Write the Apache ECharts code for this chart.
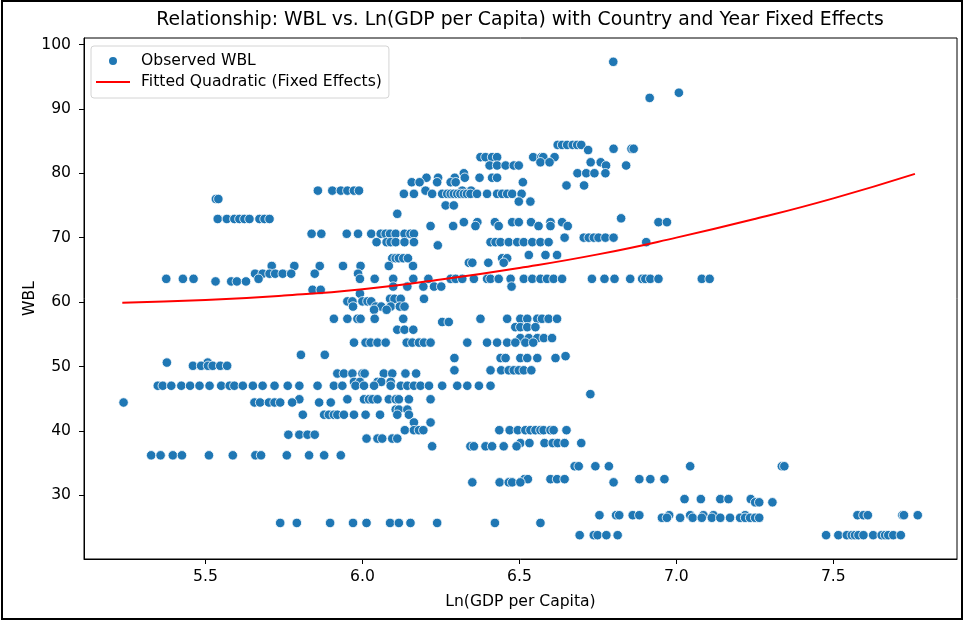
<!DOCTYPE html>
<html>
<head>
<meta charset="utf-8">
<script src="https://cdn.jsdelivr.net/npm/echarts@6/dist/echarts.min.js"></script>
<style>
  html, body { margin: 0; padding: 0; background: #fff; }
  #chart { width: 964px; height: 621px; }
</style>
</head>
<body>
<div id="chart"></div>
<script>
// WBL score levels and the Ln(GDP per capita) of each observation at that level
const wblLevels = [
  97.3, 92.5, 91.7, 84.4, 83.8, 83.6, 82.5, 81.7, 81.2, 80.0,
  79.3, 78.6, 78.1, 77.3, 76.8, 76.0, 75.6, 75.0, 73.7, 73.0,
  72.9, 72.4, 71.8, 70.6, 70.0, 69.3, 68.8, 67.3, 66.8, 66.1,
  65.6, 64.4, 63.6, 63.2, 62.4, 61.9, 61.3, 60.5, 60.1, 59.3,
  58.8, 57.4, 56.9, 56.1, 55.7, 54.4, 53.7, 51.8, 51.6, 51.3,
  50.6, 50.1, 49.4, 48.9, 47.6, 47.0, 45.7, 44.9, 44.4, 43.3,
  42.5, 41.3, 40.1, 39.4, 38.8, 38.1, 37.6, 36.2, 34.5, 32.5,
  32.0, 29.4, 28.9, 26.9, 26.5, 25.7, 23.8
];
const lnGdpByLevel = [
  [6.799],
  [7.008],
  [6.915],
  [6.622, 6.636, 6.652, 6.670, 6.684, 6.697],
  [6.800, 6.857, 6.864],
  [6.719],
  [6.376, 6.392, 6.413, 6.429, 6.544, 6.570, 6.576, 6.612],
  [6.567, 6.596, 6.727, 6.759],
  [6.405, 6.429, 6.456, 6.482, 6.498, 6.776, 6.840],
  [6.323, 6.685, 6.713, 6.739, 6.774],
  [6.204, 6.241, 6.294, 6.326, 6.373, 6.413, 6.429],
  [6.157, 6.182, 6.238, 6.281, 6.297, 6.511],
  [6.650, 6.706],
  [5.858, 5.904, 5.931, 5.952, 5.973, 5.989, 6.201, 6.318, 6.346],
  [6.132, 6.164, 6.222, 6.254, 6.270, 6.281, 6.291, 6.302, 6.312, 6.323, 6.333, 6.344, 6.365, 6.397, 6.429, 6.445, 6.461, 6.477, 6.507],
  [5.533, 5.541],
  [6.498, 6.535],
  [6.265, 6.291],
  [6.111],
  [6.824],
  [5.539, 5.568, 5.592, 5.608, 5.624, 5.640, 5.672, 5.688, 5.704],
  [6.323, 6.366, 6.422, 6.477, 6.498, 6.537, 6.599, 6.636, 6.943, 6.970],
  [6.217, 6.289, 6.360, 6.434, 6.561, 6.599, 6.654],
  [5.838, 5.869, 5.950, 5.986, 6.028, 6.058, 6.074, 6.088, 6.106, 6.134, 6.153, 6.164],
  [6.644, 6.705, 6.721, 6.737, 6.752, 6.774, 6.800],
  [6.045, 6.077, 6.090, 6.106, 6.134, 6.164, 6.408, 6.424, 6.440, 6.466, 6.493, 6.514, 6.541, 6.567, 6.593, 6.904],
  [6.240],
  [6.530, 6.583, 6.620],
  [6.095, 6.106, 6.116, 6.130, 6.145, 6.445, 6.461],
  [6.339, 6.350, 6.401, 6.450],
  [5.711, 5.783, 5.864, 5.938, 5.994, 6.084, 6.161],
  [5.658, 5.682, 5.704, 5.722, 5.746, 5.773, 5.848, 5.986],
  [5.375, 5.428, 5.462, 5.669, 5.992, 6.039, 6.098, 6.162, 6.210, 6.281, 6.297, 6.318, 6.355, 6.397, 6.408, 6.434, 6.472, 6.514, 6.541, 6.567, 6.588, 6.609, 6.636, 6.731, 6.771, 6.803, 6.853, 6.891, 6.901, 6.917, 6.943, 7.081, 7.106],
  [5.532, 5.582, 5.600, 5.629],
  [6.098, 6.143, 6.194, 6.228, 6.251, 6.475],
  [5.841, 5.867],
  [5.992],
  [6.088, 6.102, 6.122, 6.196],
  [5.952, 5.968, 6.000, 6.016, 6.028],
  [5.970, 6.042, 6.060, 6.090, 6.119, 6.134],
  [6.037, 6.077],
  [5.909, 5.952, 5.984, 5.994, 6.039, 6.130, 6.376, 6.461, 6.503, 6.525, 6.557, 6.572, 6.593, 6.620],
  [6.254, 6.275],
  [6.487, 6.503, 6.525, 6.551],
  [6.111, 6.134, 6.162],
  [6.503, 6.530, 6.557, 6.578, 6.604],
  [5.973, 6.010, 6.026, 6.048, 6.074, 6.141, 6.159, 6.180, 6.196, 6.217, 6.334, 6.397, 6.429, 6.461, 6.487, 6.519, 6.544],
  [5.804, 5.880],
  [6.647],
  [6.293, 6.440, 6.456, 6.503, 6.525, 6.557, 6.615],
  [5.377, 5.507],
  [5.460, 5.486, 5.508, 5.523, 5.547, 5.569],
  [6.293, 6.408, 6.442, 6.466, 6.482, 6.498, 6.514, 6.538],
  [5.920, 5.941, 5.968, 6.000, 6.007, 6.068, 6.095, 6.137, 6.171],
  [5.973, 5.992, 6.048, 6.060, 6.090],
  [5.348, 5.364, 5.391, 5.423, 5.451, 5.481, 5.513, 5.550, 5.577, 5.592, 5.619, 5.651, 5.682, 5.720, 5.762, 5.799, 5.857, 5.909, 5.936, 5.978, 6.005, 6.037, 6.090, 6.122, 6.143, 6.164, 6.185, 6.212, 6.254, 6.302, 6.334, 6.371, 6.408],
  [6.726],
  [5.799, 5.952, 6.005, 6.021, 6.032, 6.048, 6.084, 6.106, 6.116, 6.148, 6.217],
  [5.239, 5.656, 5.674, 5.702, 5.720, 5.738, 5.776, 5.862, 5.899],
  [6.106, 6.116, 6.143],
  [5.810, 5.878, 5.893, 5.909, 5.920, 5.941, 5.973, 6.010, 6.056, 6.111, 6.148],
  [6.164, 6.217],
  [6.135, 6.164, 6.180, 6.194, 6.436, 6.469, 6.495, 6.519, 6.535, 6.551, 6.567, 6.577, 6.599, 6.609, 6.650],
  [5.764, 5.799, 5.825, 5.848],
  [6.013, 6.048, 6.063, 6.095, 6.111],
  [6.503, 6.532, 6.580, 6.606, 6.622, 6.644, 6.697],
  [6.222, 6.344, 6.355, 6.392, 6.413, 6.450, 6.491],
  [5.327, 5.357, 5.396, 5.425, 5.511, 5.587, 5.659, 5.677, 5.759, 5.830, 5.878, 5.931],
  [6.676, 6.689, 6.742, 6.785, 7.044, 7.336, 7.344],
  [6.516, 6.527, 6.599, 6.620, 6.644, 6.882, 6.917, 6.962],
  [6.350, 6.437, 6.466, 6.477, 6.503, 6.800],
  [7.026, 7.078, 7.140, 7.166, 7.237],
  [7.251, 7.264, 7.306],
  [6.755, 6.808, 6.818, 6.861, 6.882, 6.977, 7.044, 7.086, 7.118, 7.219, 7.577, 7.596, 7.610, 7.720, 7.725, 7.769],
  [6.954, 6.970, 7.012, 7.052, 7.081, 7.113, 7.140, 7.171, 7.203, 7.219, 7.235, 7.251, 7.264],
  [5.738, 5.791, 5.897, 5.970, 6.013, 6.088, 6.116, 6.153, 6.238, 6.422, 6.567],
  [6.692, 6.737, 6.749, 6.777, 6.813, 7.477, 7.516, 7.543, 7.559, 7.569, 7.580, 7.596, 7.627, 7.654, 7.665, 7.675, 7.691, 7.715]
];

// Fitted quadratic curve (country and year fixed effects)
const fitLnGdp = [5.235, 5.5, 5.75, 6.0, 6.25, 6.5, 6.75, 7.0, 7.25, 7.5, 7.76];
const fitWbl   = [59.9, 60.3, 61.0, 62.0, 63.5, 65.3, 67.4, 70.0, 72.9, 76.1, 79.9];

// Axis ticks
const xTickValues = [5.5, 6.0, 6.5, 7.0, 7.5];
const yTickValues = [30, 40, 50, 60, 70, 80, 90, 100];

const observed = [];
wblLevels.forEach((level, i) => {
  lnGdpByLevel[i].forEach(x => observed.push([x, level]));
});
const fitted = fitLnGdp.map((x, i) => [x, fitWbl[i]]);

const FONT = 'DejaVu Sans';
const TEXT_SIZE = 15.6;
const chart = echarts.init(document.getElementById('chart'), null, { renderer: 'canvas' });

chart.setOption({
  backgroundColor: '#ffffff',
  animation: false,
  title: {
    text: 'Relationship: WBL vs. Ln(GDP per Capita) with Country and Year Fixed Effects',
    left: 520,
    top: 11,
    textAlign: 'center',
    padding: 0,
    textStyle: { fontFamily: FONT, fontSize: 18.8, fontWeight: 'normal', color: '#000' }
  },
  legend: {
    orient: 'vertical',
    left: 91,
    top: 46,
    padding: [7, 7, 8, 4],
    itemGap: 5,
    itemWidth: 34,
    itemHeight: 10,
    backgroundColor: '#ffffff',
    borderColor: '#d4d4d4',
    borderWidth: 1,
    borderRadius: 3,
    textStyle: { fontFamily: FONT, fontSize: TEXT_SIZE, color: '#000', lineHeight: 16, padding: [0, 0, 0, 6] },
    data: [
      { name: 'Observed WBL' },
      { name: 'Fitted Quadratic (Fixed Effects)', itemStyle: { color: 'rgba(0,0,0,0)', borderWidth: 0 } }
    ]
  },
  grid: {
    left: 84, right: 7, top: 38, bottom: 62,
    show: true, borderColor: '#000', borderWidth: 1, backgroundColor: '#fff',
    containLabel: false
  },
  xAxis: {
    type: 'value',
    min: 5.113,
    max: 7.894,
    name: 'Ln(GDP per Capita)',
    nameLocation: 'middle',
    nameGap: 35,
    nameMoveOverlap: false,
    nameTextStyle: { fontFamily: FONT, fontSize: TEXT_SIZE, color: '#000' },
    axisLine: { show: true, lineStyle: { color: '#000', width: 1 } },
    axisTick: { show: true, length: 5, lineStyle: { color: '#000' }, customValues: xTickValues },
    axisLabel: {
      fontFamily: FONT, fontSize: TEXT_SIZE, color: '#000', margin: 10,
      customValues: xTickValues,
      formatter: v => v.toFixed(1)
    },
    splitLine: { show: false }
  },
  yAxis: {
    type: 'value',
    min: 20.1,
    max: 101.0,
    name: 'WBL',
    nameLocation: 'middle',
    nameGap: 46,
    nameMoveOverlap: false,
    nameTextStyle: { fontFamily: FONT, fontSize: TEXT_SIZE, color: '#000' },
    axisLine: { show: true, lineStyle: { color: '#000', width: 1 } },
    axisTick: { show: true, length: 5, lineStyle: { color: '#000' }, customValues: yTickValues },
    axisLabel: {
      fontFamily: FONT, fontSize: TEXT_SIZE, color: '#000', margin: 13,
      customValues: yTickValues
    },
    splitLine: { show: false }
  },
  series: [
    {
      name: 'Observed WBL',
      type: 'scatter',
      data: observed,
      symbol: 'circle',
      symbolSize: 9.5,
      itemStyle: { color: '#1f77b4', borderColor: '#ffffff', borderWidth: 0.8, opacity: 1 },
      z: 2
    },
    {
      name: 'Fitted Quadratic (Fixed Effects)',
      type: 'line',
      data: fitted,
      smooth: true,
      symbol: 'none',
      lineStyle: { color: '#ff0000', width: 2 },
      itemStyle: { color: '#ff0000' },
      z: 3
    }
  ],
  graphic: [
    {
      type: 'rect',
      silent: true,
      shape: { x: 2, y: 1, width: 960, height: 618 },
      style: { fill: 'none', stroke: '#000', lineWidth: 2 }
    }
  ]
});
</script>
</body>
</html>
